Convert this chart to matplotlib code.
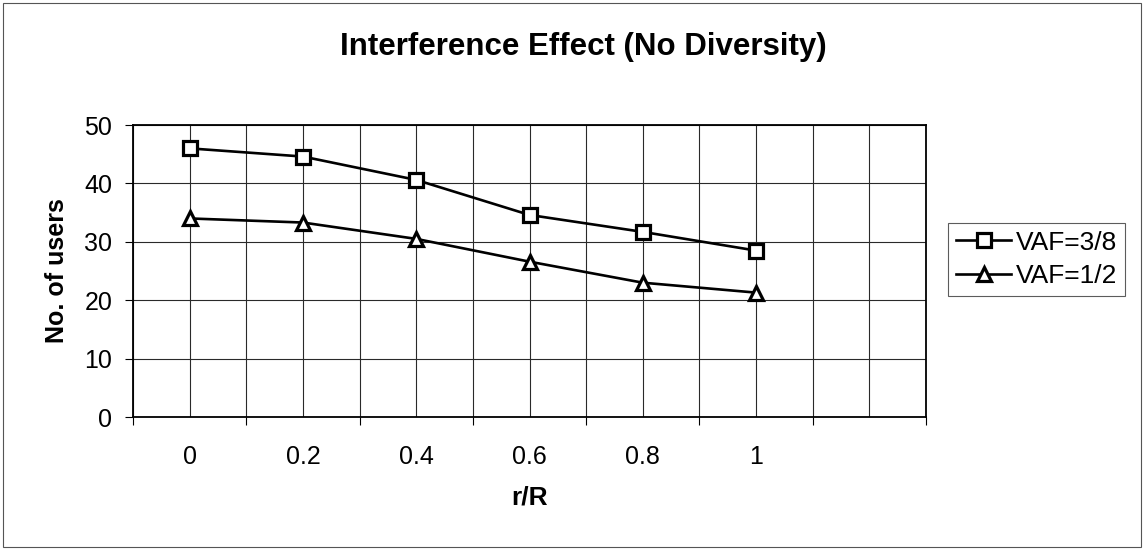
import matplotlib
matplotlib.use("Agg")
import matplotlib.pyplot as plt
from matplotlib.patches import Rectangle
import numpy as np

plt.rcParams['font.family'] = ['Liberation Sans', 'DejaVu Sans']

# data
categories = ["0", "0.2", "0.4", "0.6", "0.8", "1", ""]
vaf_38 = [46.0, 44.6, 40.6, 34.6, 31.7, 28.5]
vaf_12 = [34.0, 33.3, 30.5, 26.6, 23.0, 21.3]
yticks = [0, 10, 20, 30, 40, 50]

fig = plt.figure(figsize=(11.44, 5.5), dpi=100)
ax = fig.add_axes([0.1163, 0.2418, 0.6931, 0.5309])

x = np.arange(len(vaf_38))
ax.plot(x, vaf_38, '-s', color='black', lw=1.9, ms=10, mfc='white', mew=2.3,
        label='VAF=3/8', zorder=3)
ax.plot(x, vaf_12, '-^', color='black', lw=1.9, ms=10, mfc='white', mew=2.3,
        label='VAF=1/2', zorder=3)

n = len(categories)
ax.set_xlim(-0.5, n - 0.5)
ax.set_ylim(0, 50)

# category boundaries as major ticks, category centres carry labels
ax.set_xticks(np.arange(n + 1) - 0.5)
ax.set_xticklabels([])
ax.set_xticks(np.arange(n), minor=True)
ax.set_xticklabels(categories, minor=True)
ax.tick_params(axis='x', which='major', direction='out', length=6, width=0.8)
ax.tick_params(axis='x', which='minor', length=0, pad=20, labelsize=18)
ax.set_yticks(yticks)
ax.tick_params(axis='y', direction='out', length=6, width=0.8, labelsize=18, pad=9)

ax.grid(True, which='both', axis='x', color='#2a2a2a', lw=0.8)
ax.grid(True, which='major', axis='y', color='#2a2a2a', lw=0.8)
ax.set_axisbelow(True)
for s in ax.spines.values():
    s.set_linewidth(1.3)
    s.set_color('black')

ax.set_xlabel('r/R', fontsize=19, fontweight='bold', labelpad=12)
ax.set_ylabel('No. of users', fontsize=18, fontweight='bold', labelpad=11)

fig.text(0.51, 0.9, 'Interference Effect (No Diversity)', ha='center', va='baseline',
         fontsize=22.5, fontweight='bold')

leg = ax.legend(loc='center left', bbox_to_anchor=(1.028, 0.54), fontsize=19,
                frameon=True, fancybox=False, edgecolor='#333333',
                handlelength=2.1, handletextpad=0.15, borderpad=0.3,
                labelspacing=0.35, borderaxespad=0)
leg.get_frame().set_linewidth(0.8)

# outer chart border
fig.patches.append(Rectangle((0.003, 0.005), 0.994, 0.99, transform=fig.transFigure,
                             fill=False, edgecolor='#555555', lw=0.8))

plt.savefig('out.png', dpi=100)
